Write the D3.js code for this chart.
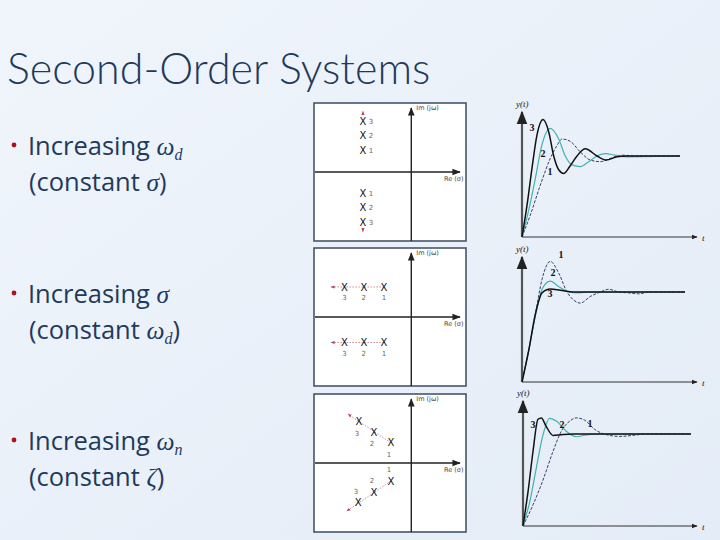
<!DOCTYPE html>
<html>
<head>
<meta charset="utf-8">
<script src="https://cdn.jsdelivr.net/npm/d3@7"></script>
<style>
  html, body { margin: 0; padding: 0; }
  svg { display: block; }
</style>
</head>
<body>
<svg width="720" height="540"></svg>
<script>
var width = 720,
    height = 540;
var svg = d3.select("svg");

//slide text
var title = "Second-Order Systems";
var bulletMain = ["Increasing ", "Increasing ", "Increasing "];
var bulletSym = [["ω", "d"], ["σ", ""], ["ω", "n"]];
var bulletSub = [["(constant ", "σ", "", ")"], ["(constant ", "ω", "d", ")"], ["(constant ", "ζ", "", ")"]];

//poles (re, im), label = curve number
var poles1 = [
    {re: -1.59, im: 1.70, k: "3"}, {re: -1.59, im: 1.23, k: "2"}, {re: -1.59, im: 0.73, k: "1"},
    {re: -1.59, im: -0.70, k: "1"}, {re: -1.59, im: -1.17, k: "2"}, {re: -1.59, im: -1.67, k: "3"}
];
var poles2 = [
    {re: -2.20, im: 1.00, k: "3"}, {re: -1.56, im: 1.00, k: "2"}, {re: -0.90, im: 1.00, k: "1"},
    {re: -2.20, im: -0.85, k: "3"}, {re: -1.56, im: -0.85, k: "2"}, {re: -0.90, im: -0.85, k: "1"}
];
var poles3 = [
    {re: -1.72, im: 1.37, k: "3"}, {re: -1.23, im: 1.03, k: "2"}, {re: -0.67, im: 0.67, k: "1"},
    {re: -0.67, im: -0.60, k: "1"}, {re: -1.23, im: -0.97, k: "2"}, {re: -1.75, im: -1.33, k: "3"}
];
//direction arrows (from, to) in s-plane units
var arrows1 = [[[-1.59, 1.95], [-1.59, 2.02]], [[-1.59, -1.92], [-1.59, -1.99]]];
var arrows2 = [[[-0.90, 1.00], [-2.64, 1.00]], [[-0.90, -0.85], [-2.64, -0.85]]];
var arrows3 = [[[-0.67, 0.67], [-2.08, 1.63]], [[-0.67, -0.60], [-2.12, -1.60]]];

//step responses [t, y] (y = 1 is steady state)
var resp1 = {
    c1: [[0,0],[0.83,0.27],[1.83,0.64],[2.83,0.97],[3.5,1.13],[4.0,1.21],[4.83,1.18],[5.83,1.05],[6.83,0.95],[7.83,0.93],[8.83,0.97],[10,1.01],[11.2,1.0],[15.8,1.0]],
    c2: [[0,0],[0.67,0.33],[1.33,0.72],[2.0,1.14],[2.83,1.34],[3.67,1.21],[4.33,1.0],[5.0,0.89],[5.83,0.87],[6.67,0.93],[7.5,1.0],[8.33,1.03],[9.33,1.01],[10.5,0.99],[15.8,1.0]],
    c3: [[0,0],[0.5,0.39],[1.0,0.85],[1.5,1.26],[2.1,1.45],[2.67,1.30],[3.17,1.0],[3.67,0.83],[4.17,0.785],[4.77,0.87],[5.5,1.0],[6.33,1.09],[7.5,1.0],[8.43,0.95],[9.5,0.99],[10.5,1.0],[15.8,1.0]]
};
var resp2 = {
    c1: [[0,0],[0.67,0.35],[1.33,0.75],[2.0,1.14],[2.83,1.34],[3.67,1.21],[4.5,1.0],[5.17,0.91],[5.83,0.877],[6.83,0.95],[7.83,1.0],[8.67,1.03],[9.67,1.0],[10.67,0.99],[11.67,0.98],[12.8,1.0],[16.3,1.0]],
    c2: [[0,0],[0.67,0.35],[1.33,0.73],[2.0,1.03],[2.83,1.12],[3.67,1.06],[4.67,1.0],[5.67,0.99],[6.83,1.0],[16.3,1.0]],
    c3: [[0,0],[0.67,0.35],[1.33,0.75],[2.0,0.99],[2.83,1.034],[3.83,1.02],[5.17,1.0],[16.3,1.0]]
};
var resp3 = {
    c1: [[0,0],[1.0,0.23],[2.0,0.5],[3.0,0.81],[3.83,1.03],[4.67,1.14],[5.33,1.175],[6.17,1.15],[7.17,1.05],[8.33,0.993],[9.67,0.974],[11,0.985],[12.33,1.0],[16.8,1.0]],
    c2: [[0,0],[0.67,0.26],[1.33,0.63],[2.0,0.99],[2.67,1.17],[3.33,1.14],[4.33,1.03],[5.33,0.97],[6.33,0.99],[7.67,1.0],[16.8,1.0]],
    c3: [[0,0],[0.5,0.37],[1.0,0.81],[1.5,1.16],[1.83,1.175],[2.33,1.08],[3.0,0.985],[3.83,0.993],[5.0,1.0],[16.8,1.0]]
};
var respLabels = [
    [{k: "3", t: 1.0, y: 1.31}, {k: "2", t: 2.1, y: 0.99}, {k: "1", t: 2.8, y: 0.76}],
    [{k: "1", t: 3.9, y: 1.38}, {k: "2", t: 3.1, y: 1.18}, {k: "3", t: 2.8, y: 0.95}],
    [{k: "3", t: 1.0, y: 1.07}, {k: "2", t: 3.9, y: 1.07}, {k: "1", t: 6.7, y: 1.08}]
];

var textColor = "#1f3a5c";
var mathFont = "'Liberation Serif','DejaVu Serif',serif";

//background
var defs = svg.append("defs");
var bg = defs.append("linearGradient").attr("id", "bg")
    .attr("x1", 0).attr("y1", 0).attr("x2", 1).attr("y2", 1);
bg.append("stop").attr("offset", 0).attr("stop-color", "#f0f5fb");
bg.append("stop").attr("offset", 1).attr("stop-color", "#e4ecf7");
svg.append("rect").attr("width", width).attr("height", height).attr("fill", "url(#bg)");

["arrBlack", "arrRed"].forEach(function(id, i) {
    defs.append("marker").attr("id", id)
        .attr("viewBox", "0 0 10 10").attr("refX", 9).attr("refY", 5)
        .attr("markerWidth", i ? 5 : 6).attr("markerHeight", i ? 5 : 6)
        .attr("orient", "auto")
        .append("path").attr("d", "M0,1 L10,5 L0,9 z")
        .attr("fill", i ? "#b5475e" : "#222");
});

//title
svg.append("text")
    .attr("x", 7).attr("y", 84)
    .attr("font-family", "'Segoe UI Light','Lato','Open Sans',sans-serif")
    .attr("font-weight", 300)
    .attr("font-size", 43)
    .attr("fill", textColor)
    .text(title);

//bullets
var bulletY = [155, 303, 450];
bulletY.forEach(function(by, i) {
    svg.append("circle").attr("cx", 14).attr("cy", by - 10).attr("r", 2.4).attr("fill", "#b0101e");
    var t1 = svg.append("text").attr("x", 28).attr("y", by)
        .attr("font-family", "'Segoe UI','Open Sans',sans-serif")
        .attr("font-size", 25.5).attr("fill", textColor);
    t1.append("tspan").text(bulletMain[i]);
    t1.append("tspan").attr("font-family", mathFont).attr("font-style", "italic").text(bulletSym[i][0]);
    if (bulletSym[i][1]) t1.append("tspan").attr("font-family", mathFont).attr("font-style", "italic")
        .attr("font-size", 16).attr("dy", 5).text(bulletSym[i][1]);
    var t2 = svg.append("text").attr("x", 29).attr("y", by + 36)
        .attr("font-family", "'Segoe UI','Open Sans',sans-serif")
        .attr("font-size", 25.5).attr("fill", textColor);
    var s = bulletSub[i];
    t2.append("tspan").text(s[0]);
    t2.append("tspan").attr("font-family", mathFont).attr("font-style", "italic").text(s[1]);
    if (s[2]) {
        t2.append("tspan").attr("font-family", mathFont).attr("font-style", "italic")
            .attr("font-size", 16).attr("dy", 5).text(s[2]);
        t2.append("tspan").attr("dy", -5).text(s[3]);
    } else {
        t2.append("tspan").text(s[3]);
    }
});

//s-plane panels
var panelTops = [103, 248, 394];
var panelPoles = [poles1, poles2, poles3];
var panelArrows = [arrows1, arrows2, arrows3];
//label offsets for upper / lower poles
var labelOff = [
    [[8, 3], [8, 3]],
    [[0, 13], [0, 13]],
    [[-2, 14], [-2, -9]]
];

panelTops.forEach(function(top, p) {
    var g = svg.append("g");
    var x = d3.scaleLinear().domain([-3.2, 1.8]).range([314, 466]);
    var y = d3.scaleLinear().domain([-2.3, 2.3]).range([top + 138, top]);

    g.append("rect").attr("x", 314).attr("y", top).attr("width", 152).attr("height", 138)
        .attr("fill", "#fff").attr("stroke", "#46566b").attr("stroke-width", 1.6);

    //direction lines
    panelArrows[p].forEach(function(a) {
        g.append("line")
            .attr("x1", x(a[0][0])).attr("y1", y(a[0][1]))
            .attr("x2", x(a[1][0])).attr("y2", y(a[1][1]))
            .attr("stroke", "#c4707f").attr("stroke-width", 0.8)
            .attr("stroke-dasharray", p === 0 ? null : "1.5,1.5")
            .attr("marker-end", "url(#arrRed)");
    });

    //axes
    g.append("line").attr("x1", 315).attr("x2", 460).attr("y1", y(0)).attr("y2", y(0))
        .attr("stroke", "#222").attr("stroke-width", 1.4).attr("marker-end", "url(#arrBlack)");
    g.append("line").attr("x1", x(0)).attr("x2", x(0)).attr("y1", top + 138).attr("y2", top + 5)
        .attr("stroke", "#222").attr("stroke-width", 1.4).attr("marker-end", "url(#arrBlack)");
    g.append("text").attr("x", x(0) + 5).attr("y", top + 7)
        .attr("font-family", "'DejaVu Sans',sans-serif").attr("font-size", 6.5).attr("fill", "#444")
        .text("Im (jω)");
    g.append("text").attr("x", 444).attr("y", y(0) + 9)
        .attr("font-family", "'DejaVu Sans',sans-serif").attr("font-size", 6.5).attr("fill", "#444")
        .text("Re (σ)");

    //poles
    g.selectAll(".pole").data(panelPoles[p]).enter().append("text")
        .attr("x", d => x(d.re)).attr("y", d => y(d.im) + 3.5)
        .attr("text-anchor", "middle")
        .attr("font-family", "'DejaVu Sans',sans-serif").attr("font-size", 10).attr("fill", "#111")
        .text("X");
    g.selectAll(".plabel").data(panelPoles[p]).enter().append("text")
        .attr("x", d => x(d.re) + labelOff[p][d.im > 0 ? 0 : 1][0])
        .attr("y", d => y(d.im) + labelOff[p][d.im > 0 ? 0 : 1][1])
        .attr("text-anchor", "middle")
        .attr("font-family", "'DejaVu Sans',sans-serif").attr("font-size", 7).attr("fill", "#666")
        .text(d => d.k);
});

//step responses
var respData = [resp1, resp2, resp3];
var origins = [[522, 237, 156], [522, 382, 292], [523, 526, 434]];
var curveStyle = {
    c1: {stroke: "#33406a", width: 1, dash: "3,1.5"},
    c2: {stroke: "#3fb3b2", width: 1.2, dash: null},
    c3: {stroke: "#111", width: 1.5, dash: null}
};

respData.forEach(function(resp, r) {
    var o = origins[r];
    var g = svg.append("g");
    var x = d3.scaleLinear().domain([0, 18]).range([o[0], o[0] + 180]);
    var y = d3.scaleLinear().domain([0, 1]).range([o[1], o[2]]);

    g.append("line").attr("x1", o[0]).attr("x2", 697).attr("y1", o[1]).attr("y2", o[1])
        .attr("stroke", "#333").attr("stroke-width", 1).attr("marker-end", "url(#arrBlack)");
    g.append("line").attr("x1", o[0]).attr("x2", o[0]).attr("y1", o[1]).attr("y2", o[1] - 125)
        .attr("stroke", "#555").attr("stroke-width", 2.2).attr("marker-end", "url(#arrBlack)");
    g.append("text").attr("x", o[0] - 6).attr("y", o[1] - 130)
        .attr("font-family", mathFont).attr("font-style", "italic").attr("font-size", 9).attr("fill", "#111")
        .text("y(t)");
    g.append("text").attr("x", 702).attr("y", o[1] + 4)
        .attr("font-family", mathFont).attr("font-style", "italic").attr("font-size", 9).attr("fill", "#111")
        .text("t");

    var line = d3.line()
        .x(d => x(d[0]))
        .y(d => y(d[1]))
        .curve(d3.curveMonotoneX);

    ["c1", "c2", "c3"].forEach(function(c) {
        g.append("path").datum(resp[c])
            .attr("d", line)
            .attr("fill", "none")
            .attr("stroke", curveStyle[c].stroke)
            .attr("stroke-width", curveStyle[c].width)
            .attr("stroke-dasharray", curveStyle[c].dash);
    });

    g.selectAll(".rl").data(respLabels[r]).enter().append("text")
        .attr("x", d => x(d.t)).attr("y", d => y(d.y))
        .attr("text-anchor", "middle")
        .attr("font-family", mathFont).attr("font-weight", "bold").attr("font-size", 10).attr("fill", "#111")
        .text(d => d.k);
});
</script>
</body>
</html>
